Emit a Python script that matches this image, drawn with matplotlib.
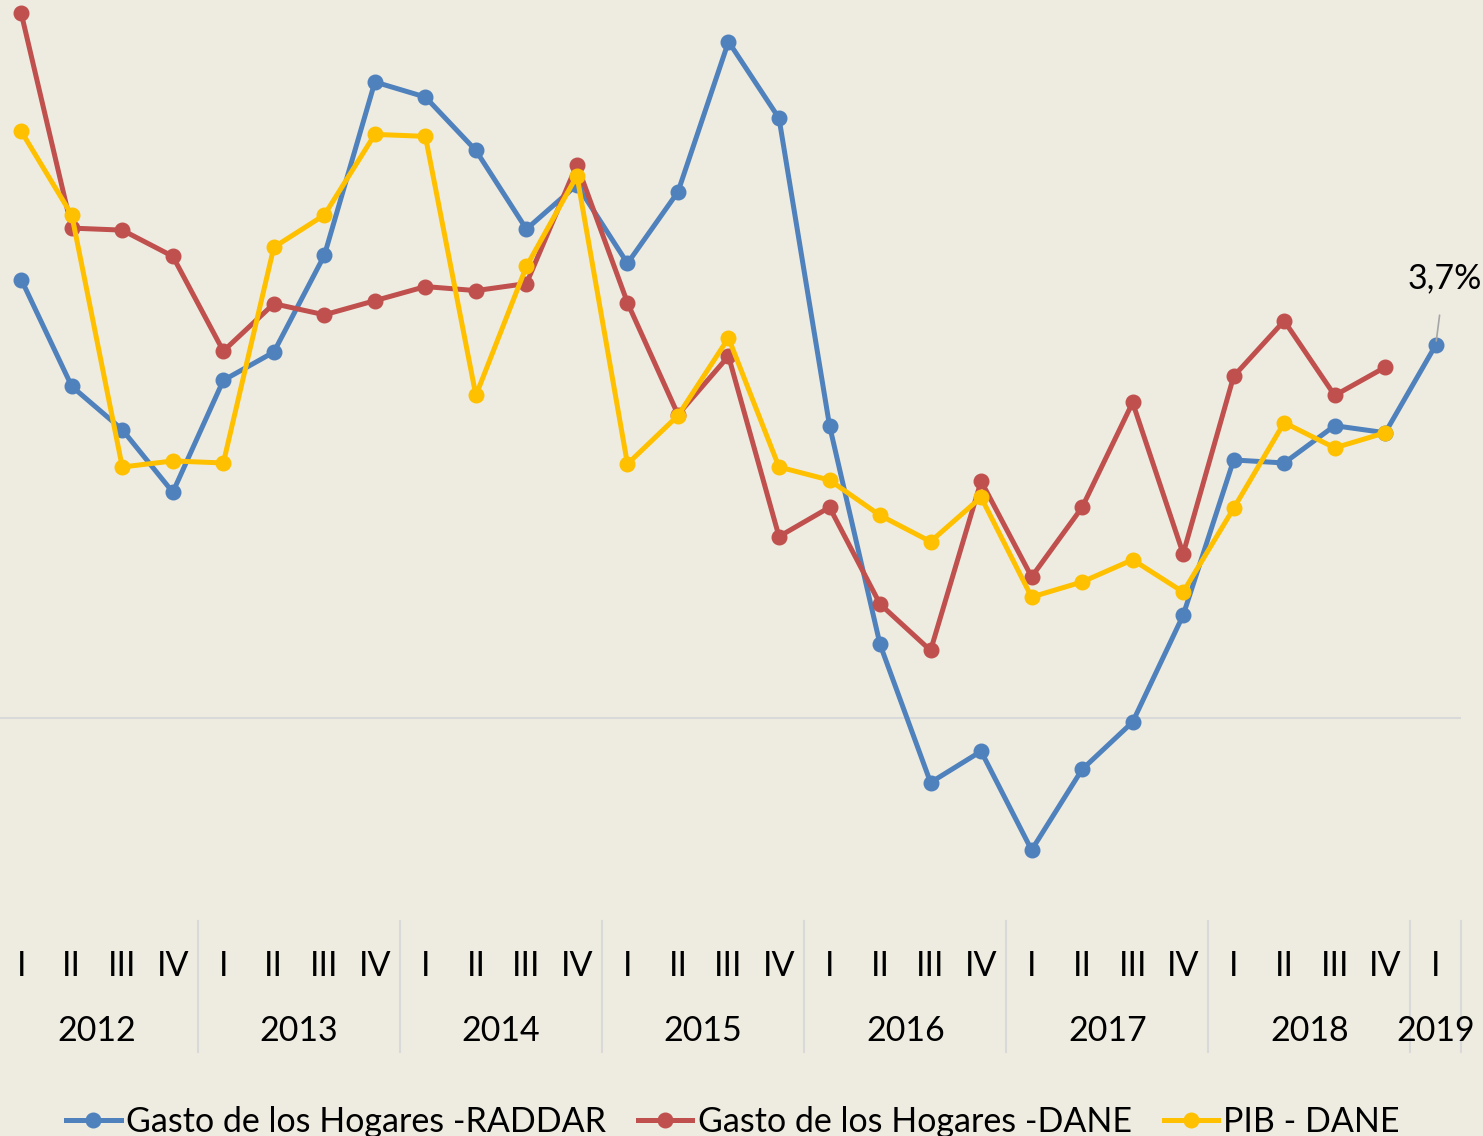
import matplotlib
matplotlib.use("Agg")
import matplotlib.pyplot as plt
from matplotlib.lines import Line2D
import matplotlib.transforms as mtransforms

plt.rcParams['font.family'] = ['Lato', 'DejaVu Sans']

quarters = ["I", "II", "III", "IV"] * 7 + ["I"]
years = ["2012", "2013", "2014", "2015", "2016", "2017", "2018", "2019"]

raddar = [4.35, 3.29, 2.86, 2.24, 3.35, 3.63, 4.59, 6.31, 6.16, 5.63, 4.85, 5.29,
          4.51, 5.22, 6.71, 5.95, 2.90, 0.73, -0.64, -0.33, -1.31, -0.51, -0.04, 1.02,
          2.56, 2.53, 2.90, 2.83, 3.70]
dane = [6.99, 4.86, 4.84, 4.58, 3.64, 4.11, 4.00, 4.14, 4.28, 4.24, 4.31, 5.49,
        4.12, 3.01, 3.59, 1.80, 2.09, 1.13, 0.67, 2.35, 1.40, 2.09, 3.13, 1.63,
        3.39, 3.94, 3.20, 3.48]
pib = [5.82, 4.99, 2.49, 2.55, 2.53, 4.67, 4.99, 5.79, 5.77, 3.20, 4.48, 5.38,
       2.52, 3.00, 3.77, 2.49, 2.36, 2.01, 1.75, 2.19, 1.20, 1.35, 1.57, 1.25,
       2.08, 2.93, 2.68, 2.83]

series_names = ["Gasto de los Hogares -RADDAR", "Gasto de los Hogares -DANE", "PIB - DANE"]
colors = ["#4F81BD", "#C0504D", "#FFC000"]
bg = "#EEECE1"
FS = 24.5

W, H = 1483, 1136
fig = plt.figure(figsize=(W / 100, H / 100), dpi=100, facecolor=bg)
ax_left = -4 / W
ax_right = 1461 / W
ax_bottom = (H - 920) / H
ax = fig.add_axes([ax_left, ax_bottom, ax_right - ax_left, 1 - ax_bottom])
ax.set_facecolor(bg)
ax.set_xlim(-0.5, 28.5)
ax.set_ylim(-2.004, 7.123)
for s in ax.spines.values():
    s.set_visible(False)
ax.set_xticks([])
ax.set_yticks([])
ax.axhline(0, color="#D9D9D9", lw=1.5, zorder=1)

lw = 3.6
ms = 10.5
handles = []
for vals, c, name in zip([raddar, dane, pib], colors, series_names):
    x = list(range(len(vals)))
    h, = ax.plot(x, vals, color=c, lw=lw, marker="o", ms=ms, zorder=3,
                 solid_joinstyle="round", label=name)
    handles.append(h)

# data label
ax.annotate("3,7%", xy=(28, raddar[-1]), xytext=(28.17, raddar[-1] + 0.66),
            fontsize=FS, ha="center", va="center", color="#000000",
            arrowprops=dict(arrowstyle="-", color="#A6A6A6", lw=1.2,
                            shrinkA=13, shrinkB=3),
            annotation_clip=False)

# category axis labels
trans = mtransforms.blended_transform_factory(ax.transData, fig.transFigure)
q_y = 1 - 966 / H
y_y = 1 - 1031 / H
for i, q in enumerate(quarters):
    ax.text(i, q_y, q, transform=trans, ha="center", va="center", fontsize=FS,
            clip_on=False)
for k, yr in enumerate(years):
    if k < 7:
        cx = 4 * k + 1.5
    else:
        cx = 28
    ax.text(cx, y_y, yr, transform=trans, ha="center", va="center", fontsize=FS,
            clip_on=False)
# separators
for k in range(1, 8):
    xs = 4 * k - 0.5
    ax.add_line(Line2D([xs, xs], [1 - 921 / H, 1 - 1052 / H], transform=trans,
                       color="#D9D9D9", lw=1.5, clip_on=False))
ax.add_line(Line2D([28.5, 28.5], [1 - 921 / H, 1 - 1052 / H], transform=trans,
                   color="#D9D9D9", lw=1.5, clip_on=False))

leg = fig.legend(handles=handles, loc="lower center", ncol=3,
                 bbox_to_anchor=(733 / W, -0.014), frameon=False, fontsize=FS,
                 handlelength=1.6, handletextpad=0.15, columnspacing=0.95,
                 borderaxespad=0.0)

fig.savefig("out.png", dpi=100, facecolor=bg)
